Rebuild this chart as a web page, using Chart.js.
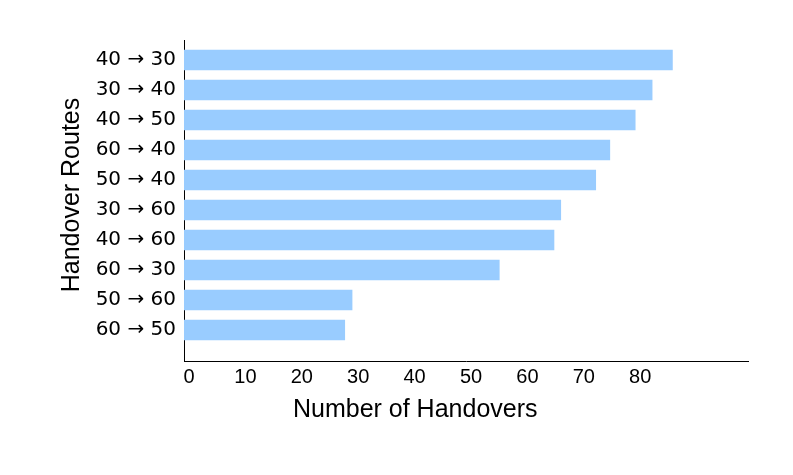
<!DOCTYPE html>
<html>
<head>
<meta charset="utf-8">
<script src="https://cdn.jsdelivr.net/npm/chart.js@4/dist/chart.umd.min.js"></script>
<style>
  html, body { margin: 0; padding: 0; background: #fff; }
  #wrap { width: 793px; height: 475px; }
</style>
</head>
<body>
<div id="wrap"><canvas id="handover-chart"></canvas></div>
<script>
const routes = ['40 → 30', '30 → 40', '40 → 50', '60 → 40', '50 → 40', '30 → 60', '40 → 60', '60 → 30', '50 → 60', '60 → 50'];
const handovers = [86.6, 83, 80, 75.5, 73, 66.8, 65.6, 55.9, 29.8, 28.5];
const xTicks = [0, 10, 20, 30, 40, 50, 60, 70, 80];
const xTitle = 'Number of Handovers';
const yTitle = 'Handover Routes';

Chart.defaults.font.family = '"Liberation Sans", Arial, sans-serif';
Chart.defaults.color = '#000';

// bars sit on numeric positions 0..9 so the axis lines can run past the bars
const points = handovers.map((value, index) => ({ x: value, y: index }));

// titles are centred on the bars / ticked range, not on the full axis lines
const axisTitles = {
  id: 'axisTitles',
  afterDraw(chart) {
    const { ctx, scales: { x, y } } = chart;
    ctx.save();
    ctx.font = '25px "Liberation Sans", Arial, sans-serif';
    ctx.fillStyle = '#000';
    ctx.textAlign = 'center';
    ctx.textBaseline = 'alphabetic';
    const xCentre = (x.getPixelForValue(0) + x.getPixelForValue(82)) / 2;
    ctx.fillText(xTitle, xCentre, x.top + 56);

    const yCentre = y.getPixelForValue((routes.length - 1) / 2);
    ctx.translate(79, yCentre);
    ctx.rotate(-Math.PI / 2);
    ctx.fillText(yTitle, 0, 0);
    ctx.restore();
  }
};

new Chart(document.getElementById('handover-chart'), {
  type: 'bar',
  data: {
    datasets: [
      {
        data: points,
        backgroundColor: '#99ccff',
        borderWidth: 0,
        barThickness: 20,
      },
    ],
  },
  options: {
    indexAxis: 'y',
    responsive: true,
    maintainAspectRatio: false,
    animation: false,
    layout: { padding: { top: 40, right: 45, bottom: 0, left: 0 } },
    plugins: {
      legend: { display: false },
      tooltip: { enabled: false },
    },
    scales: {
      x: {
        type: 'linear',
        min: 0,
        max: 100,
        grid: { display: false, drawTicks: false },
        border: { display: true, color: '#000', width: 1 },
        ticks: { stepSize: 10, padding: 4, labelOffset: 5, font: { size: 20 } },
        afterBuildTicks: (scale) => {
          scale.ticks = xTicks.map((value) => ({ value }));
        },
        afterFit: (scale) => {
          scale.height = 114;
        },
      },
      y: {
        type: 'linear',
        reverse: true,
        offset: false,
        min: -0.667,
        max: 10.033,
        grid: { display: false, drawTicks: false },
        border: { display: true, color: '#000', width: 1 },
        ticks: {
          padding: 8,
          font: { family: '"DejaVu Sans", sans-serif', size: 20 },
          callback: (value) => routes[value],
        },
        afterBuildTicks: (scale) => {
          scale.ticks = routes.map((route, index) => ({ value: index }));
        },
        afterFit: (scale) => {
          scale.width = 184;
        },
      },
    },
  },
  plugins: [axisTitles],
});
</script>
</body>
</html>
